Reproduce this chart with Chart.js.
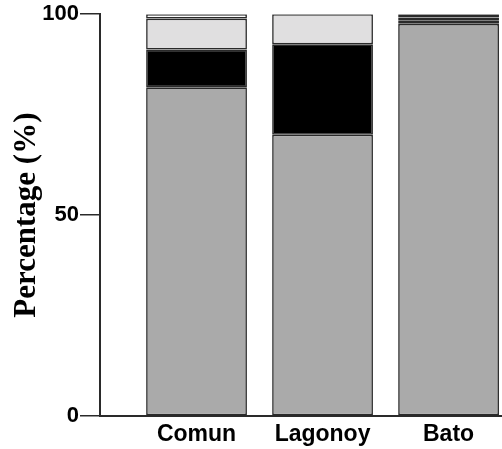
<!DOCTYPE html>
<html>
<head>
<meta charset="utf-8">
<script src="https://cdn.jsdelivr.net/npm/chart.js@4/dist/chart.umd.min.js"></script>
<style>
  html, body { margin: 0; padding: 0; background: #fff; overflow: hidden; }
  #wrap { width: 502px; height: 449px; position: relative; }
</style>
</head>
<body>
<div id="wrap"><canvas id="c" width="502" height="449"></canvas></div>
<script>
const categories = ['Comun', 'Lagonoy', 'Bato'];
const grayValues = [81.8, 70.0, 97.6];
const blackValues = [9.4, 22.5, 0.8];
const lightValues = [7.7, 7.5, 0.8];
const whiteValues = [1.1, 0.0, 0.8];
const yTicks = [0, 50, 100];
const yTitle = 'Percentage (%)';

const toPoints = arr => arr.map((v, i) => ({ x: i + 1, y: v }));

const seriesDefs = [
  { label: 'gray', data: grayValues, color: '#aaaaaa' },
  { label: 'black', data: blackValues, color: '#000000' },
  { label: 'light', data: lightValues, color: '#e0dfe0' },
  { label: 'white', data: whiteValues, color: '#ffffff' }
];

const datasets = seriesDefs.map(s => ({
  label: s.label,
  data: toPoints(s.data),
  backgroundColor: s.color,
  borderColor: '#2a2a2a',
  borderWidth: 1.6,
  borderSkipped: false,
  barPercentage: 0.8,
  categoryPercentage: 1.0
}));

new Chart(document.getElementById('c'), {
  type: 'bar',
  data: { datasets },
  options: {
    responsive: false,
    animation: false,
    devicePixelRatio: 1,
    layout: { padding: { top: 14, right: 0, left: 0, bottom: 0 } },
    plugins: { legend: { display: false }, tooltip: { enabled: false } },
    scales: {
      x: {
        type: 'linear',
        stacked: true,
        offset: false,
        min: 0.234,
        max: 3.424,
        afterBuildTicks: s => { s.ticks = categories.map((c, i) => ({ value: i + 1 })); },
        afterFit: s => { s.height = 33; },
        grid: { display: false, drawTicks: false, offset: false },
        border: { display: true, color: '#2a2a2a', width: 2 },
        ticks: {
          autoSkip: false,
          maxRotation: 0,
          padding: 5,
          color: '#000',
          font: { family: 'Liberation Sans, Arial, sans-serif', size: 23, weight: 'bold' },
          callback: v => categories[Math.round(v) - 1] ?? ''
        }
      },
      y: {
        stacked: true,
        min: 0,
        max: 100,
        afterBuildTicks: s => { s.ticks = yTicks.map(v => ({ value: v })); },
        afterFit: s => { s.width = 100; },
        grid: { display: true, drawOnChartArea: false, drawTicks: true, tickLength: 20, color: '#2a2a2a', lineWidth: 1.5 },
        border: { display: true, color: '#2a2a2a', width: 2 },
        ticks: {
          padding: 1,
          color: '#000',
          font: { family: 'Liberation Sans, Arial, sans-serif', size: 22, weight: 'bold' }
        },
        title: {
          display: true,
          text: yTitle,
          color: '#000',
          padding: { top: 8, bottom: 0 },
          font: { family: 'Liberation Serif, Times New Roman, serif', size: 31, weight: 'bold' }
        }
      }
    }
  }
});
</script>
</body>
</html>
